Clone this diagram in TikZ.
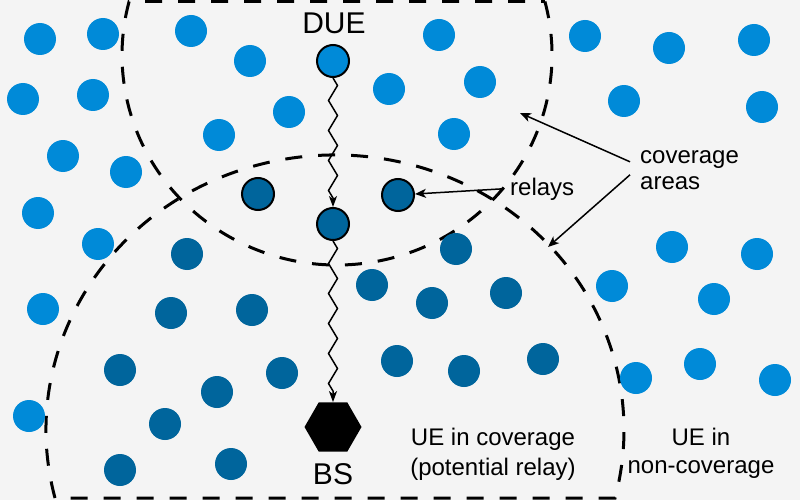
\documentclass[tikz,border=0pt]{standalone}
\usepackage{fontspec}
\setmainfont{Liberation Sans}
\usetikzlibrary{shapes.geometric,arrows.meta,decorations.pathmorphing}
\definecolor{lightue}{HTML}{008AD8}
\definecolor{darkue}{HTML}{00659C}
\definecolor{bgcol}{HTML}{F4F4F4}
\begin{document}
\begin{tikzpicture}[x=1pt,y=-1pt,
  cover/.style={draw=black, line width=3pt, dash pattern=on 17pt off 16pt},
  ue/.style={circle, fill=lightue, minimum size=32pt, inner sep=0pt},
  inue/.style={circle, fill=darkue, minimum size=32pt, inner sep=0pt},
  marked/.style={draw=black, line width=2pt},
  link/.style={draw=black, line width=1.5pt, decorate,
    decoration={zigzag, amplitude=4.5pt, segment length=30pt, post length=5pt},
    -{Stealth[length=11pt,width=8pt,inset=3pt]}},
  ann/.style={draw=black, line width=1.5pt, -{Stealth[length=11pt,width=9pt,inset=3pt]}},
  biglab/.style={inner sep=0pt, font=\fontsize{30}{36}\selectfont},
  lab/.style={inner sep=0pt, font=\fontsize{24}{28}\selectfont}
]
\fill[bgcol] (0,0) rectangle (800,500);
\useasboundingbox (0,0) rectangle (800,500);

% coverage areas
\draw[cover] (544.9,1.5) arc[start angle=-14.76, end angle=194.76, x radius=215, y radius=210] -- cycle;
\draw[cover] (55.0,498) arc[start angle=165.68, end angle=374.32, x radius=289, y radius=275] -- cycle;

% UEs out of coverage
\node[ue] (u1) at (40,39) {};
\node[ue] (u2) at (103,34) {};
\node[ue] (u3) at (191,31) {};
\node[ue] (u4) at (250,61) {};
\node[ue] (u5) at (289,112) {};
\node[ue] (u6) at (23,99) {};
\node[ue] (u7) at (93,95) {};
\node[ue] (u8) at (63,156) {};
\node[ue] (u9) at (126,172) {};
\node[ue] (u10) at (219,135) {};
\node[ue] (u11) at (38,213) {};
\node[ue] (u12) at (98,244) {};
\node[ue] (u13) at (43,309) {};
\node[ue] (u14) at (29,416) {};
\node[ue] (u15) at (389,89) {};
\node[ue] (u16) at (439,35) {};
\node[ue] (u17) at (480,82) {};
\node[ue] (u18) at (454,134) {};
\node[ue] (u19) at (585,36) {};
\node[ue] (u20) at (669,48) {};
\node[ue] (u21) at (754,40) {};
\node[ue] (u22) at (624,101) {};
\node[ue] (u23) at (762,107) {};
\node[ue] (u24) at (672,247) {};
\node[ue] (u25) at (757,254) {};
\node[ue] (u26) at (612,286) {};
\node[ue] (u27) at (714,299) {};
\node[ue] (u28) at (636,378) {};
\node[ue] (u29) at (700,364) {};
\node[ue] (u30) at (775,380) {};

% UEs in coverage
\node[inue] (c1) at (187,254) {};
\node[inue] (c2) at (171,313) {};
\node[inue] (c3) at (252,310) {};
\node[inue] (c4) at (120,370) {};
\node[inue] (c5) at (217,392) {};
\node[inue] (c6) at (282,373) {};
\node[inue] (c7) at (165,424) {};
\node[inue] (c8) at (120,470) {};
\node[inue] (c9) at (231,464) {};
\node[inue] (c10) at (372,285) {};
\node[inue] (c11) at (432,303) {};
\node[inue] (c12) at (506,293) {};
\node[inue] (c13) at (456,249) {};
\node[inue] (c14) at (397,361) {};
\node[inue] (c15) at (464,371) {};
\node[inue] (c16) at (543,359) {};

% DUE and relays
\node[ue, marked] (due) at (333,61) {};
\node[inue, marked] (relL) at (258,194) {};
\node[inue, marked] (relR) at (398,195) {};
\node[inue, marked] (mid) at (333,224) {};

% base station
\node[regular polygon, regular polygon sides=6, fill=black, minimum size=57pt, inner sep=0pt] (bs) at (333,427) {};

% links
\draw[link] (due) -- (mid);
\draw[link] (mid) -- (bs);

% labels
\node[biglab, anchor=base] (duelab) at (334,34) {DUE};
\node[biglab, anchor=base] (bslab) at (333,484) {BS};
\node[lab, anchor=base west] (relaystxt) at (510,195) {relays};
\node[inner sep=0pt, font=\fontsize{24}{26}\selectfont, anchor=base west] (cov) at (640,163)
  {\begin{tabular}[t]{@{}l@{}}coverage\\areas\end{tabular}};
\node[inner sep=0pt, font=\fontsize{24}{30}\selectfont, anchor=base] (incov) at (493,445)
  {\begin{tabular}[t]{@{}c@{}}UE in coverage\\(potential relay)\end{tabular}};
\node[inner sep=0pt, font=\fontsize{24}{28}\selectfont, anchor=base] (noncov) at (701,445)
  {\begin{tabular}[t]{@{}c@{}}UE in\\non-coverage\end{tabular}};

% annotation arrows
\coordinate (tipA) at (520,113);
\coordinate (tipB) at (548,247);
\draw[ann] ([xshift=-7pt]relaystxt.west) -- (relR);
\draw[ann] ([shift={(-10,-9)}]cov.west) -- (tipA);
\draw[ann] ([shift={(-10,4)}]cov.west) -- (tipB);
\end{tikzpicture}
\end{document}
